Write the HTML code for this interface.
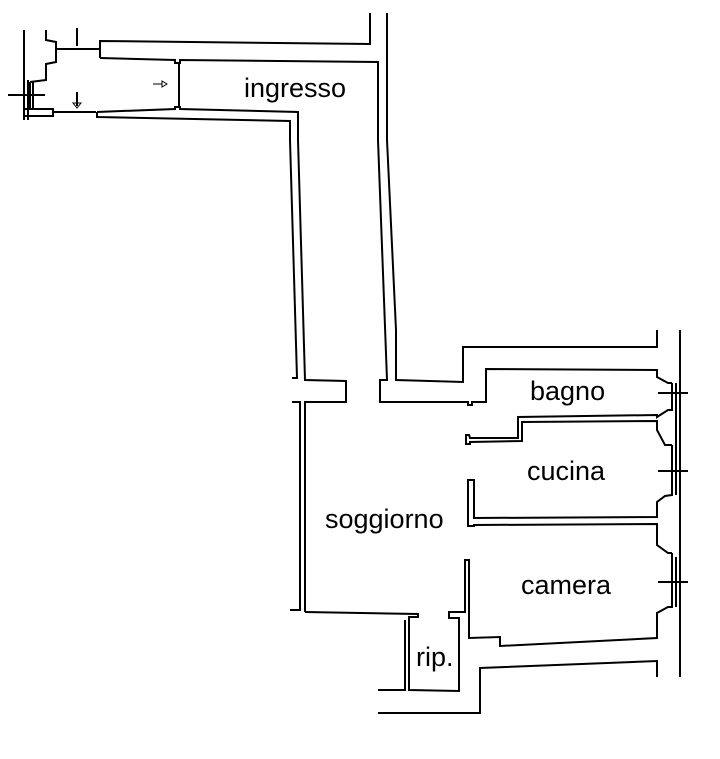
<!DOCTYPE html>
<html><head><style>html,body{margin:0;padding:0;background:#fff}svg{display:block}text{font-family:"Liberation Sans",sans-serif;font-size:27px;fill:#000}</style></head><body>
<svg width="720" height="759" viewBox="0 0 720 759" xmlns="http://www.w3.org/2000/svg">
<g fill="none" stroke="#000" stroke-width="2">
<polyline points="24,30 24,120"/><polyline points="28,80 28,120"/>
<polyline points="46,30 46,40 56,42 56,49 100,49"/>
<polyline points="56,49 56,62 46,64 46,80 30,82"/>
<line x1="8" y1="95" x2="45" y2="95"/>
<line x1="30" y1="82" x2="30" y2="110"/><line x1="33" y1="82" x2="33" y2="110"/>
<polyline points="24,109 53,109 53,116 24,116"/>
<polyline points="53,112 96,112"/>
<line x1="77" y1="28" x2="77" y2="46"/><line x1="77" y1="92" x2="77" y2="106"/>
<polygon points="73,103 81,103 77,108" stroke-width="1"/>
<line x1="153" y1="84" x2="162" y2="84" stroke-width="1"/><polygon points="162,81 167,84 162,87" stroke-width="1"/>
<polyline points="100,58 100,41 370,44 370,13"/>
<polyline points="100,58 175,60 175,63 180,63 180,60 378,62 378,140 387,380 380,380 380,402 468,402 468,405 472,405 472,402 486,402 486,369 657,370 657,377 668,383 672,383"/>
<polyline points="387,13 387,140 396,330 396,380 463,382 463,347 657,347 657,330"/>
<line x1="179" y1="63" x2="179" y2="107"/>
<polyline points="97,112 97,117 290,121 290,140 297,378 292,378"/>
<polyline points="97,112 175,109 175,107 180,107 180,109 298,112 298,140 305,380 346,381 346,402 305,402 305,612"/>
<polyline points="292,402 300,402 300,610 290,610"/>
<polyline points="672,383 672,410 668,410 657,417 657,415 518,417 518,438 470,438 469,435 466,435 466,444 470,444 470,442 522,441 522,422 657,421 657,430 665,445 672,445"/>
<line x1="676" y1="383" x2="676" y2="445"/>
<line x1="658" y1="393" x2="688" y2="393"/>
<polyline points="672,445 672,495 665,496 657,502 657,517 474,518 474,480 468,480 468,526 474,526 474,525 657,524 657,545 668,553 672,553"/>
<line x1="676" y1="445" x2="676" y2="495"/>
<line x1="658" y1="471" x2="688" y2="471"/>
<polyline points="672,553 672,607 668,607 657,613 657,638 500,646 500,637 469,638 469,560 465,560 465,612 449,612 449,618 459,618 459,691 409,690 409,617 418,617 418,614 305,612"/>
<polyline points="676,557 676,607"/>
<line x1="658" y1="582" x2="688" y2="582"/>
<polyline points="405,620 405,690 378,690"/>
<polyline points="378,713 480,713 480,668 657,661 657,677"/>
<line x1="680" y1="330" x2="680" y2="677"/>
</g>
<text x="244" y="97">ingresso</text>
<text x="530" y="400">bagno</text>
<text x="527" y="480">cucina</text>
<text x="325" y="528">soggiorno</text>
<text x="521" y="594">camera</text>
<text x="416" y="666">rip.</text>
</svg>
</body></html>
